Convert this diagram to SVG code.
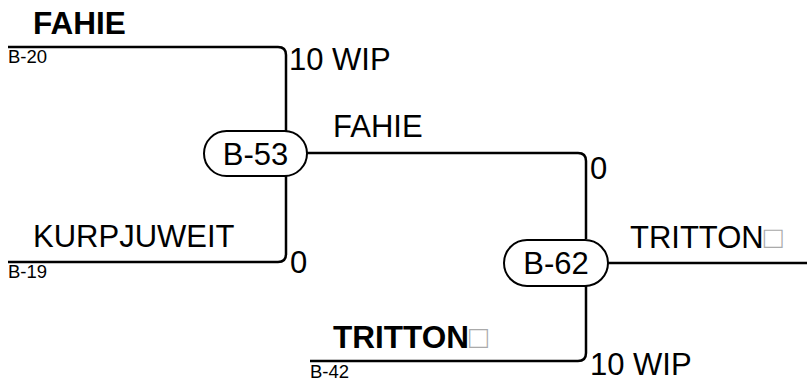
<svg xmlns="http://www.w3.org/2000/svg" width="807" height="386" viewBox="0 0 807 386">
<style>
.ln{fill:none;stroke:#000;stroke-width:2.5}
.nd{fill:#fff;stroke:#000;stroke-width:2}
.t{font-family:"Liberation Sans",Arial,sans-serif;font-size:31px;fill:#000}
.b{font-weight:bold;font-size:31.5px}
.s{font-family:"Liberation Sans",Arial,sans-serif;font-size:18.5px;fill:#000}
.g{fill:#aaa;font-weight:normal}
</style>
<rect width="807" height="386" fill="#fff"/>
<g id="connectors">
<path class="ln" d="M8,47 H278 Q286,47 286,55 V132"/>
<path class="ln" d="M8,262 H278 Q286,262 286,254 V176"/>
<path class="ln" d="M307,153 H578 Q586,153 586,161 V239"/>
<path class="ln" d="M310,361 H578 Q586,361 586,353 V285"/>
<path class="ln" d="M608,263 H807"/>
</g>
<g id="B-53">
<rect class="nd" x="204" y="131" width="103" height="45" rx="22.5"/>
<text class="t" x="255.5" y="165" text-anchor="middle">B-53</text>
</g>
<g id="B-62">
<rect class="nd" x="504" y="240" width="104" height="46" rx="23"/>
<text class="t" x="556" y="274" text-anchor="middle">B-62</text>
</g>
<g id="labels">
<text class="t b" x="33" y="34">FAHIE</text>
<text class="s" x="8" y="63">B-20</text>
<text class="t" x="289" y="70">10 WIP</text>
<text class="t" x="333" y="137">FAHIE</text>
<text class="t" x="590" y="179">0</text>
<text class="t" x="33" y="247">KURPJUWEIT</text>
<text class="s" x="8" y="278">B-19</text>
<text class="t" x="290" y="273">0</text>
<text class="t" x="630" y="248">TRITTON<tspan class="g">□</tspan></text>
<text class="t b" x="333" y="348">TRITTON<tspan class="g">□</tspan></text>
<text class="s" x="310" y="378">B-42</text>
<text class="t" x="590" y="375">10 WIP</text>
</g>
</svg>
